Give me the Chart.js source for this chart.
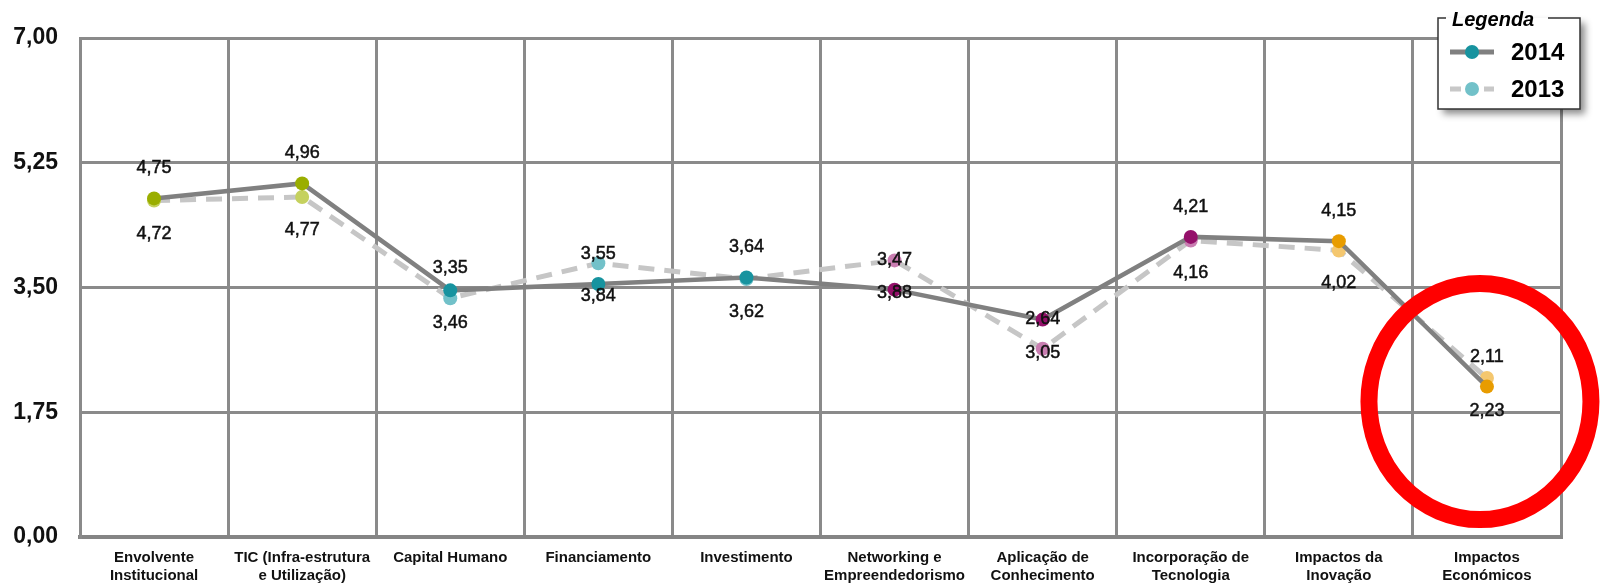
<!DOCTYPE html>
<html lang="pt">
<head>
<meta charset="utf-8">
<title>Indicadores 2013 / 2014</title>
<script src="https://cdn.jsdelivr.net/npm/chart.js@4.4.0/dist/chart.umd.min.js"></script>
<style>
  html, body { margin: 0; padding: 0; background: #ffffff; }
  #wrap { width: 1602px; height: 584px; position: relative; }
</style>
</head>
<body>
<div id="wrap"><canvas id="chart" width="1602" height="584"></canvas></div>
<script>
// Categories (dimensions of the index)
const categories = [
  ['Envolvente', 'Institucional'],
  ['TIC (Infra-estrutura', 'e Utilização)'],
  ['Capital Humano'],
  ['Financiamento'],
  ['Investimento'],
  ['Networking e', 'Empreendedorismo'],
  ['Aplicação de', 'Conhecimento'],
  ['Incorporação de', 'Tecnologia'],
  ['Impactos da', 'Inovação'],
  ['Impactos', 'Económicos']
];

// Scores per year
const values2014 = [4.75, 4.96, 3.46, 3.55, 3.64, 3.47, 3.05, 4.21, 4.15, 2.11];
const values2013 = [4.72, 4.77, 3.35, 3.84, 3.62, 3.88, 2.64, 4.16, 4.02, 2.23];

// Y axis ticks
const yTicks = [0, 1.75, 3.5, 5.25, 7];

// Where each value label sits relative to its point
const labelSide2014 = ['above', 'above', 'below', 'above', 'above', 'above', 'below', 'above', 'above', 'above'];
const labelSide2013 = ['below', 'below', 'above', 'below', 'below', 'below', 'above', 'below', 'below', 'below'];

// Colour groups of the dimensions (strong = 2014, soft = 2013)
const strong = { green: '#9aae00', teal: '#17939f', purple: '#94106a', orange: '#e89c00' };
const soft   = { green: '#c5d15e', teal: '#72c1c9', purple: '#c97db1', orange: '#f4c76f' };
const groupOf = ['green', 'green', 'teal', 'teal', 'teal', 'purple', 'purple', 'purple', 'orange', 'orange'];

const fmt = v => v.toFixed(2).replace('.', ',');
const FONT = '"Liberation Sans", Arial, "DejaVu Sans", sans-serif';

// Value labels above / below each point
const valueLabels = {
  id: 'valueLabels',
  afterDatasetsDraw(chart) {
    const ctx = chart.ctx;
    ctx.save();
    ctx.font = '18px ' + FONT;
    ctx.fillStyle = '#111111';
    ctx.strokeStyle = '#111111';
    ctx.lineWidth = 0.5;
    ctx.textAlign = 'center';
    ctx.textBaseline = 'middle';
    chart.data.datasets.forEach((ds, di) => {
      const meta = chart.getDatasetMeta(di);
      meta.data.forEach((pt, i) => {
        const y = ds.labelSides[i] === 'above' ? pt.y - 30 : pt.y + 33;
        const txt = fmt(ds.data[i]);
        ctx.fillText(txt, pt.x, y);
        ctx.strokeText(txt, pt.x, y);
      });
    });
    ctx.restore();
  }
};

// Framed legend box in the top-right corner
const legendBox = {
  id: 'legendBox',
  afterDraw(chart) {
    const ctx = chart.ctx;
    const x = 1438, y = 18, w = 142, h = 91;
    ctx.save();
    // box with drop shadow
    ctx.shadowColor = 'rgba(0,0,0,0.45)';
    ctx.shadowBlur = 7;
    ctx.shadowOffsetX = 5;
    ctx.shadowOffsetY = 5;
    ctx.fillStyle = '#ffffff';
    ctx.fillRect(x, y, w, h);
    ctx.restore();

    ctx.save();
    ctx.strokeStyle = '#333333';
    ctx.lineWidth = 1.5;
    ctx.beginPath();
    ctx.moveTo(1446, y);
    ctx.lineTo(x, y);
    ctx.lineTo(x, y + h);
    ctx.lineTo(x + w, y + h);
    ctx.lineTo(x + w, y);
    ctx.lineTo(1548, y);
    ctx.stroke();

    ctx.font = 'italic bold 20px ' + FONT;
    ctx.fillStyle = '#000000';
    ctx.textBaseline = 'alphabetic';
    ctx.textAlign = 'left';
    ctx.fillText('Legenda', 1452, 26);

    const rows = [
      { label: '2014', y: 52, line: '#808080', dash: [], dot: strong.teal },
      { label: '2013', y: 89, line: '#c8c8c8', dash: [11, 6], dot: soft.teal }
    ];
    rows.forEach(r => {
      ctx.strokeStyle = r.line;
      ctx.lineWidth = 5;
      ctx.setLineDash(r.dash);
      ctx.beginPath();
      ctx.moveTo(1450, r.y);
      ctx.lineTo(1494, r.y);
      ctx.stroke();
      ctx.setLineDash([]);
      ctx.fillStyle = r.dot;
      ctx.beginPath();
      ctx.arc(1472, r.y, 7, 0, Math.PI * 2);
      ctx.fill();
      ctx.fillStyle = '#000000';
      ctx.font = 'bold 24px ' + FONT;
      ctx.textBaseline = 'middle';
      ctx.fillText(r.label, 1511, r.y + 1);
    });
    ctx.restore();
  }
};

// Red ring highlighting the last dimension
const highlightRing = {
  id: 'highlightRing',
  afterDraw(chart) {
    const meta = chart.getDatasetMeta(0);
    const pt = meta.data[meta.data.length - 1];
    const ctx = chart.ctx;
    ctx.save();
    ctx.strokeStyle = '#ff0000';
    ctx.lineWidth = 17;
    ctx.beginPath();
    ctx.ellipse(pt.x - 7, pt.y + 15, 111, 118, 0, 0, Math.PI * 2);
    ctx.stroke();
    ctx.restore();
  }
};

new Chart(document.getElementById('chart'), {
  type: 'line',
  data: {
    labels: categories,
    datasets: [
      {
        label: '2014',
        data: values2014,
        labelSides: labelSide2014,
        borderColor: '#808080',
        borderWidth: 4.5,
        pointRadius: 7,
        pointHoverRadius: 7,
        pointBorderWidth: 0,
        pointBackgroundColor: groupOf.map(g => strong[g]),
        tension: 0,
        order: 1
      },
      {
        label: '2013',
        data: values2013,
        labelSides: labelSide2013,
        borderColor: '#c6c6c6',
        borderWidth: 5,
        borderDash: [16, 10],
        pointRadius: 7,
        pointHoverRadius: 7,
        pointBorderWidth: 0,
        pointBackgroundColor: groupOf.map(g => soft[g]),
        tension: 0,
        order: 2
      }
    ]
  },
  options: {
    responsive: false,
    animation: false,
    layout: { padding: { left: 0, right: 41, top: 38, bottom: 0 } },
    plugins: {
      legend: { display: false },
      tooltip: { enabled: false },
      title: { display: false }
    },
    scales: {
      x: {
        offset: true,
        grid: { offset: true, color: '#8a8a8a', lineWidth: 3, drawTicks: false },
        border: { display: true, color: '#858585', width: 4 },
        ticks: {
          padding: 12,
          color: '#111111',
          font: { family: FONT, size: 15, weight: 'bold', lineHeight: 1.2 },
          maxRotation: 0,
          autoSkip: false
        },
        afterFit(scale) { scale.height = 47; }
      },
      y: {
        min: 0,
        max: 7,
        afterBuildTicks(scale) { scale.ticks = yTicks.map(v => ({ value: v })); },
        grid: { color: '#8a8a8a', lineWidth: 3, drawTicks: false },
        border: { display: true, color: '#8a8a8a', width: 3 },
        ticks: {
          padding: 22,
          color: '#111111',
          font: { family: FONT, size: 23, weight: 'bold' },
          callback: v => fmt(v)
        },
        afterFit(scale) { scale.width = 80; }
      }
    }
  },
  plugins: [valueLabels, legendBox, highlightRing]
});
</script>
</body>
</html>
